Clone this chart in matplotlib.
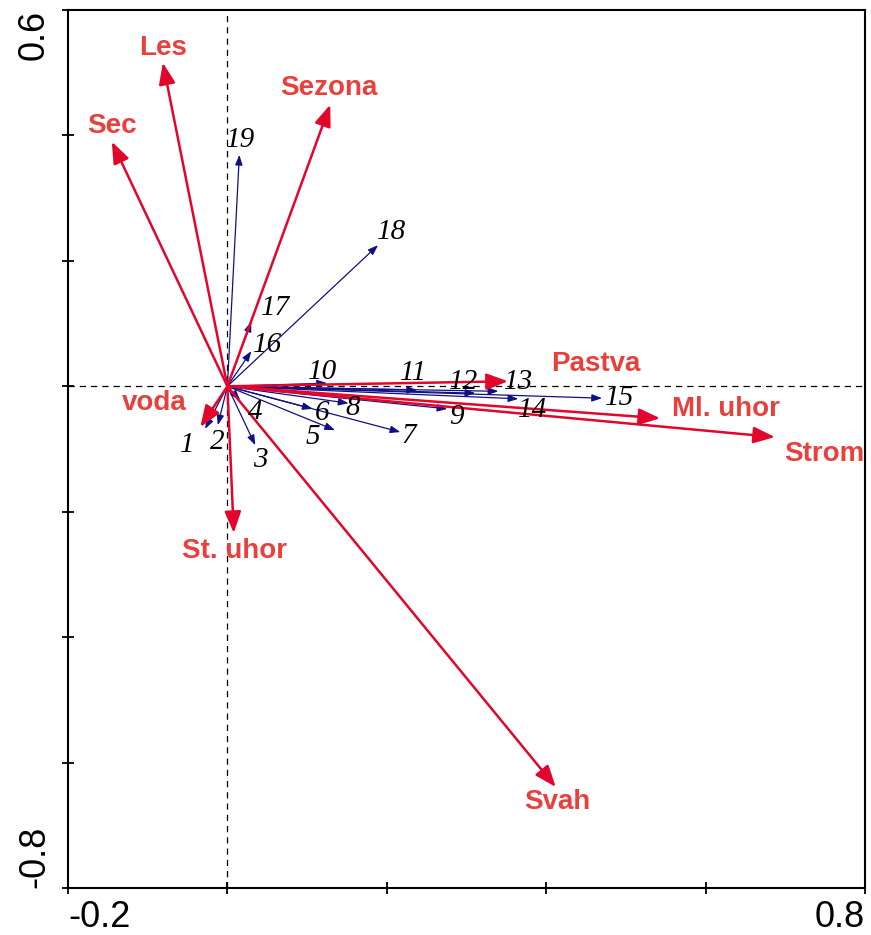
import matplotlib

matplotlib.use("Agg")

import matplotlib.pyplot as plt

# species scores (blue arrows)
species = ['1', '2', '3', '4', '5', '6', '7', '8', '9', '10',
           '11', '12', '13', '14', '15', '16', '17', '18', '19']
sp_x = [-0.028, -0.012, 0.035, 0.016, 0.135, 0.107, 0.217, 0.152, 0.276, 0.125,
        0.238, 0.311, 0.340, 0.365, 0.470, 0.030, 0.030, 0.189, 0.015]
sp_y = [-0.068, -0.062, -0.094, -0.022, -0.070, -0.036, -0.073, -0.027, -0.036, 0.005,
        -0.006, -0.011, -0.008, -0.020, -0.019, 0.056, 0.103, 0.225, 0.369]

# environmental variables (red arrows)
env = ['Les', 'Sec', 'Sezona', 'Pastva', 'Ml. uhor', 'Strom', 'Svah', 'St. uhor', 'voda']
env_x = [-0.081, -0.145, 0.129, 0.352, 0.543, 0.687, 0.412, 0.008, -0.034]
env_y = [0.516, 0.390, 0.449, 0.008, -0.051, -0.081, -0.639, -0.234, -0.065]

# label offsets from arrow tips, in pixels (x right, y up)
sp_off = {'1': (-18, -16), '2': (-1, -17), '3': (5, -15), '4': (15, -12),
          '5': (-22, -7), '6': (9, -4), '7': (8, -4), '8': (4, -5),
          '9': (9, -8), '10': (-4, 11), '11': (-4, 17), '12': (-12, 11),
          '13': (20, 9), '14': (14, -11), '15': (18, 0), '16': (16, 6),
          '17': (24, 14), '18': (14, 13), '19': (1, 15)}
env_off = {'Les': (0, 15), 'Sec': (0, 16), 'Sezona': (-1, 17), 'Pastva': (88, 17),
           'Ml. uhor': (66, 9), 'Strom': (49, -17), 'Svah': (2, -15),
           'St. uhor': (1, -18), 'voda': (-46, 24)}

RED = '#e2062c'
RED_TXT = '#e8403c'
BLUE = '#101085'

fig = plt.figure(figsize=(8.71, 9.35), dpi=100)
ax = fig.add_axes([68 / 871, 47 / 935, 797 / 871, 878 / 935])
ax.set_xlim(-0.2, 0.8)
ax.set_ylim(-0.8, 0.6)

ax.axvline(0, color='black', lw=0.9, ls=(0, (5, 4)), zorder=1)
ax.axhline(0, color='black', lw=0.9, ls=(0, (5, 4)), zorder=1)

px = 72.0 / fig.dpi

for name, x, y in zip(species, sp_x, sp_y):
    ax.annotate('', xy=(x, y), xytext=(0, 0),
                arrowprops=dict(arrowstyle='-|>,head_length=6,head_width=2.2',
                                color=BLUE, lw=0.9, shrinkA=0, shrinkB=0,
                                mutation_scale=1), zorder=2)
    dx, dy = sp_off[name]
    ax.annotate(name, xy=(x, y), xytext=(dx * px, dy * px), textcoords='offset points',
                ha='center', va='center', fontsize=21, style='italic',
                family='Liberation Serif', color='black', zorder=4)

for name, x, y in zip(env, env_x, env_y):
    ax.annotate('', xy=(x, y), xytext=(0, 0),
                arrowprops=dict(arrowstyle='-|>,head_length=13,head_width=5',
                                color=RED, lw=1.8, shrinkA=0, shrinkB=0,
                                mutation_scale=1), zorder=3)
    dx, dy = env_off[name]
    ax.annotate(name, xy=(x, y), xytext=(dx * px, dy * px), textcoords='offset points',
                ha='center', va='center', fontsize=20, fontweight='bold',
                family='Liberation Sans', color=RED_TXT, zorder=4)

xt = [-0.2, 0, 0.2, 0.4, 0.6, 0.8]
yt = [-0.8, -0.6, -0.4, -0.2, 0, 0.2, 0.4, 0.6]
ax.set_xticks(xt, ['-0.2', '', '', '', '', '0.8'])
ax.set_yticks(yt, ['-0.8', '', '', '', '', '', '', '0.6'])
ax.tick_params(direction='inout', length=9, width=1.3, labelsize=26)
ax.tick_params(axis='x', pad=4)
ax.tick_params(axis='y', pad=7)

for lab in ax.get_xticklabels():
    lab.set_family('Liberation Sans')
xl = ax.get_xticklabels()
xl[0].set_ha('left')
xl[-1].set_ha('right')
yl = ax.get_yticklabels()
for lab in yl:
    lab.set_family('Liberation Sans')
    lab.set_rotation(90)
yl[0].set_va('bottom')
yl[-1].set_va('top')

for s in ax.spines.values():
    s.set_linewidth(1.5)

fig.savefig('out.png', dpi=100)
